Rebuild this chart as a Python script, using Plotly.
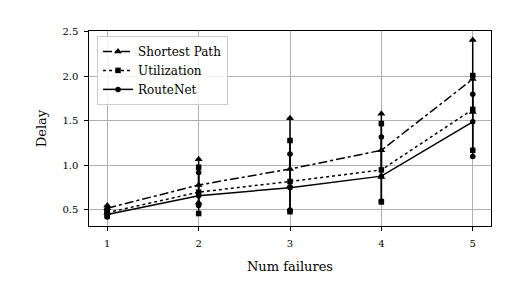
import plotly.graph_objects as go

failures = [1, 2, 3, 4, 5]
sp_mean = [0.52, 0.78, 0.96, 1.17, 1.97]
sp_lo = [0.47, 0.58, 0.77, 0.87, 1.60]
sp_hi = [0.55, 1.07, 1.53, 1.58, 2.41]
ut_mean = [0.47, 0.70, 0.82, 0.95, 1.63]
ut_lo = [0.43, 0.46, 0.48, 0.59, 1.17]
ut_hi = [0.50, 0.98, 1.28, 1.47, 2.01]
rn_mean = [0.45, 0.66, 0.75, 0.88, 1.49]
rn_lo = [0.42, 0.55, 0.50, 0.60, 1.10]
rn_hi = [0.48, 0.92, 1.13, 1.32, 1.80]

series = [
    ("Shortest Path", sp_mean, sp_lo, sp_hi, "dashdot", "triangle-up", 7),
    ("Utilization", ut_mean, ut_lo, ut_hi, "dot", "square", 5.5),
    ("RouteNet", rn_mean, rn_lo, rn_hi, "solid", "circle", 5.5),
]

FONT = "DejaVu Serif"
fig = go.Figure()
for name, m, lo, hi, dash, sym, sz in series:
    fig.add_trace(go.Scatter(
        x=failures, y=m, name=name, mode="lines+markers",
        line=dict(color="black", width=1.5, dash=dash),
        marker=dict(symbol=sym, size=sz, color="black"),
        error_y=dict(type="data", symmetric=False,
                     array=[h - v for h, v in zip(hi, m)],
                     arrayminus=[v - l for v, l in zip(m, lo)],
                     color="black", thickness=1.5, width=2.5),
    ))
    fig.add_trace(go.Scatter(
        x=failures + failures, y=lo + hi, mode="markers", showlegend=False,
        marker=dict(symbol=sym, size=sz, color="black"), hoverinfo="skip",
    ))

axis_common = dict(
    showline=True, linecolor="black", linewidth=1.2, mirror=True,
    ticks="outside", ticklen=3.5, tickwidth=1, tickcolor="black",
    showgrid=True, gridcolor="#b0b0b0", gridwidth=1, zeroline=False,
    tickfont=dict(family=FONT, size=10, color="black"),
    ticklabelstandoff=4,
)
fig.update_xaxes(range=[0.8, 5.2], tickvals=failures, ticktext=[str(v) for v in failures],
                 title=dict(text="Num failures", font=dict(family=FONT, size=13, color="black"), standoff=14),
                 **axis_common)
fig.update_yaxes(range=[0.32, 2.51], tickvals=[0.5, 1.0, 1.5, 2.0, 2.5],
                 ticktext=["0.5", "1.0", "1.5", "2.0", "2.5"],
                 title=dict(text="Delay", font=dict(family=FONT, size=13, color="black"), standoff=12),
                 **axis_common)
fig.update_layout(
    width=521, height=300,
    margin=dict(l=89, r=30, t=31, b=74),
    plot_bgcolor="white", paper_bgcolor="white",
    font=dict(family=FONT, color="black"),
    legend=dict(x=0.02, y=0.975, xanchor="left", yanchor="top",
                bordercolor="#cccccc", borderwidth=1, bgcolor="rgba(255,255,255,0.85)",
                font=dict(family=FONT, size=12, color="black")),
    showlegend=True,
)
fig.write_html("out.html")
